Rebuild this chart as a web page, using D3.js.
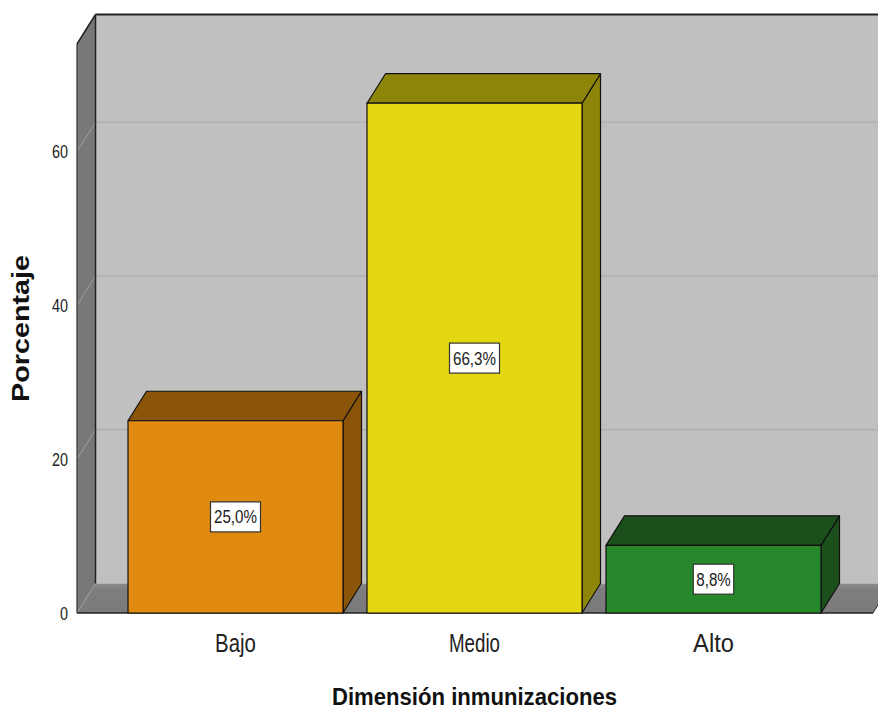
<!DOCTYPE html>
<html><head><meta charset="utf-8">
<script src="https://cdn.jsdelivr.net/npm/d3@7"></script>
<style>body{margin:0;background:#fff}svg{display:block}</style>
</head><body>
<script>
const categories = ["Bajo", "Medio", "Alto"];
const values = [25.0, 66.3, 8.8];
const valueLabels = ["25,0%", "66,3%", "8,8%"];
const frontColors = ["#e08a10", "#e3d712", "#26882b"];
const darkColors = ["#8a5509", "#8d8509", "#1b4f1b"];
const yTicks = [0, 20, 40, 60];

const W = 878, H = 713;
const svg = d3.select("body").append("svg").attr("width", W).attr("height", H);

const dx = 18.5, dy = -29.5;
const y = d3.scaleLinear().domain([0, 74]).range([613, 44]);
const x = d3.scaleBand().domain(categories).range([104.1, 844.9]).paddingInner(0.1004).paddingOuter(0.1);
const x0 = 77, xFrontEnd = 873, backRight = 900;
const yb = y(0), yt = y(74);

// back wall
svg.append("rect").attr("x", x0 + dx).attr("y", yt + dy).attr("width", backRight - x0 - dx).attr("height", yb - yt)
  .attr("fill", "#c0c0c0");
// back wall gridlines
yTicks.filter(d => d > 0).forEach(v => {
  svg.append("line").attr("x1", x0 + dx).attr("x2", backRight).attr("y1", y(v) + dy).attr("y2", y(v) + dy)
    .attr("stroke", "#a8a8a8").attr("stroke-width", 1);
});
// left wall
svg.append("polygon").attr("points", [[x0, yb], [x0, yt], [x0 + dx, yt + dy], [x0 + dx, yb + dy]].map(p => p.join(",")).join(" "))
  .attr("fill", "#787878");
yTicks.filter(d => d > 0).forEach(v => {
  svg.append("line").attr("x1", x0).attr("y1", y(v)).attr("x2", x0 + dx).attr("y2", y(v) + dy)
    .attr("stroke", "#a0a0a0").attr("stroke-width", 1);
});
// floor
const defs = svg.append("defs");
const g = defs.append("linearGradient").attr("id", "floorG").attr("x1", 0).attr("y1", 0).attr("x2", 0).attr("y2", 1);
g.append("stop").attr("offset", "0%").attr("stop-color", "#8c8c8c");
g.append("stop").attr("offset", "20%").attr("stop-color", "#7e7e7e");
g.append("stop").attr("offset", "100%").attr("stop-color", "#7a7a7a");
svg.append("polygon").attr("points", [[x0, yb], [xFrontEnd, yb], [xFrontEnd + dx, yb + dy], [x0 + dx, yb + dy]].map(p => p.join(",")).join(" "))
  .attr("fill", "url(#floorG)");
svg.append("line").attr("x1", x0).attr("y1", yb).attr("x2", x0 + dx).attr("y2", yb + dy)
  .attr("stroke", "#a0a0a0").attr("stroke-width", 1);

// outlines
svg.append("line").attr("x1", x0 + dx).attr("x2", backRight).attr("y1", yt + dy).attr("y2", yt + dy)
  .attr("stroke", "#222").attr("stroke-width", 2);
svg.append("line").attr("x1", x0 + dx).attr("x2", x0 + dx).attr("y1", yt + dy).attr("y2", yb + dy)
  .attr("stroke", "#222").attr("stroke-width", 1.5);
svg.append("line").attr("x1", x0).attr("x2", x0).attr("y1", yt).attr("y2", yb)
  .attr("stroke", "#333").attr("stroke-width", 1.2);
svg.append("line").attr("x1", x0).attr("y1", yt).attr("x2", x0 + dx).attr("y2", yt + dy)
  .attr("stroke", "#222").attr("stroke-width", 1.5);
svg.append("line").attr("x1", x0).attr("x2", xFrontEnd).attr("y1", yb).attr("y2", yb)
  .attr("stroke", "#222").attr("stroke-width", 1.5);
svg.append("line").attr("x1", xFrontEnd).attr("y1", yb).attr("x2", xFrontEnd + dx).attr("y2", yb + dy)
  .attr("stroke", "#333").attr("stroke-width", 1);

// bars
const bw = x.bandwidth();
categories.forEach((c, i) => {
  const bx = x(c), by = y(values[i]);
  const gb = svg.append("g").attr("stroke", "#111").attr("stroke-width", 1.2).attr("stroke-linejoin", "round");
  gb.append("polygon").attr("points", [[bx + bw, by], [bx + bw + dx, by + dy], [bx + bw + dx, yb + dy], [bx + bw, yb]].map(p => p.join(",")).join(" "))
    .attr("fill", darkColors[i]);
  gb.append("polygon").attr("points", [[bx, by], [bx + bw, by], [bx + bw + dx, by + dy], [bx + dx, by + dy]].map(p => p.join(",")).join(" "))
    .attr("fill", darkColors[i]);
  gb.append("rect").attr("x", bx).attr("y", by).attr("width", bw).attr("height", yb - by).attr("fill", frontColors[i]);
  // value label
  const cx = bx + bw / 2, cy = (by + yb) / 2;
  const lw = valueLabels[i].length * 9.6 + 2, lh = 30;
  svg.append("rect").attr("x", cx - lw / 2).attr("y", cy - lh / 2).attr("width", lw).attr("height", lh)
    .attr("fill", "#fff").attr("stroke", "#333").attr("stroke-width", 1.2);
  svg.append("text").attr("x", cx).attr("y", cy + 6.5).attr("text-anchor", "middle")
    .attr("font-family", "Liberation Sans, Arial, sans-serif").attr("font-size", 18)
    .attr("textLength", valueLabels[i].length * 8.6).attr("lengthAdjust", "spacingAndGlyphs")
    .attr("fill", "#222").text(valueLabels[i]);
});

// y tick labels
yTicks.forEach(v => {
  svg.append("text").attr("x", 68).attr("y", y(v) + 6.5).attr("text-anchor", "end")
    .attr("font-family", "Liberation Sans, Arial, sans-serif").attr("font-size", 18)
    .attr("textLength", String(v).length * 8).attr("lengthAdjust", "spacingAndGlyphs")
    .attr("fill", "#222").text(v);
});

// category labels
categories.forEach(c => {
  svg.append("text").attr("x", x(c) + bw / 2).attr("y", 652).attr("text-anchor", "middle")
    .attr("font-family", "Liberation Sans, Arial, sans-serif").attr("font-size", 26)
    .attr("textLength", c.length * 10.2).attr("lengthAdjust", "spacingAndGlyphs")
    .attr("fill", "#222").text(c);
});

// axis titles
svg.append("text").attr("x", 474.5).attr("y", 705).attr("text-anchor", "middle")
  .attr("font-family", "Liberation Sans, Arial, sans-serif").attr("font-weight", "bold").attr("font-size", 23)
  .attr("textLength", 285).attr("lengthAdjust", "spacingAndGlyphs")
  .attr("fill", "#111").text("Dimensión inmunizaciones");
svg.append("text").attr("transform", "translate(29,328.5) rotate(-90)").attr("text-anchor", "middle")
  .attr("font-family", "Liberation Sans, Arial, sans-serif").attr("font-weight", "bold").attr("font-size", 24)
  .attr("textLength", 147).attr("lengthAdjust", "spacingAndGlyphs")
  .attr("fill", "#111").text("Porcentaje");
</script>
</body></html>
